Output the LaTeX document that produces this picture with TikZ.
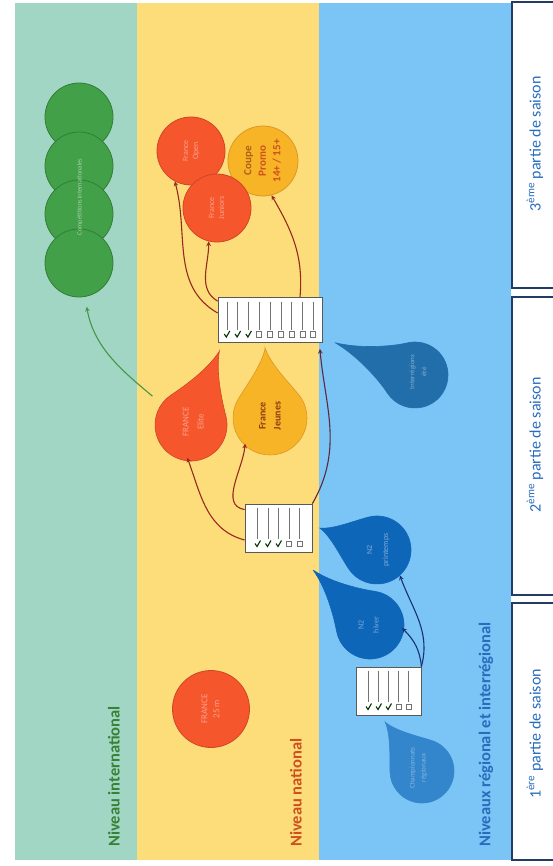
\documentclass[tikz,border=0pt]{standalone}
\usepackage{fontspec}
\setmainfont{Carlito}
\usepackage{graphicx}
\usetikzlibrary{arrows}

\definecolor{intlbg}{RGB}{162,214,196}
\definecolor{natbg}{RGB}{253,221,122}
\definecolor{regbg}{RGB}{122,196,246}
\definecolor{intlgreen}{RGB}{66,160,72}
\definecolor{intlline}{RGB}{50,125,55}
\definecolor{natred}{RGB}{246,86,44}
\definecolor{natredline}{RGB}{205,70,40}
\definecolor{natorange}{RGB}{246,180,38}
\definecolor{natorangeline}{RGB}{222,150,40}
\definecolor{natbrown}{RGB}{140,60,20}
\definecolor{regdark}{RGB}{33,110,170}
\definecolor{regmid}{RGB}{14,102,185}
\definecolor{reglight}{RGB}{52,134,204}
\definecolor{txtgreen}{RGB}{55,130,55}
\definecolor{txtred}{RGB}{205,80,30}
\definecolor{txtblue}{RGB}{40,108,190}
\definecolor{boxline}{RGB}{35,60,100}
\definecolor{arrred}{RGB}{150,40,30}
\definecolor{arrpurple}{RGB}{95,40,65}
\definecolor{arrblue}{RGB}{25,50,110}
\definecolor{arrgreen}{RGB}{70,150,70}

% text turned a quarter turn
\newcommand{\vtext}[1]{\rotatebox{90}{\begin{tabular}{@{}c@{}}#1\end{tabular}}}

% drop: x, y, radius, tail angle, tail length, colours
\newcommand{\drop}[6]{%
  \begin{scope}[shift={(#1,#2)},rotate=#4]
    \filldraw[#6,line width=0.6pt] (#5,0) .. controls ({(#5+#3)/2},{0.12*#3}) and ({0.94*#3},{0.56*#3}) .. ({0.574*#3},{0.819*#3})
      arc[start angle=55,end angle=305,radius=#3]
      .. controls ({0.94*#3},{-0.56*#3}) and ({(#5+#3)/2},{-0.12*#3}) .. cycle;
  \end{scope}}

% grid of results: name, x, y, width, height, columns, spacing
\newcommand{\tabgrid}[7]{%
  \node[gridbox,minimum width=#4pt,minimum height=#5pt] (#1) at (#2,#3) {};
  \foreach \k in {1,...,#6}{%
    \pgfmathsetmacro{\gx}{#2+(\k-(#6+1)/2)*#7}
    \draw[gridline] (\gx,#3-#5/2+4) -- (\gx,#3+#5/2-13);
    \ifnum\k<4
      \draw[checkmark] (\gx-2.5,#3+#5/2-8.5) -- (\gx-0.5,#3+#5/2-5.5) -- (\gx+3,#3+#5/2-11.5);
    \else
      \draw[gridline] (\gx-2.5,#3+#5/2-11) rectangle (\gx+2.5,#3+#5/2-5.5);
    \fi
  }}

\begin{document}
\begin{tikzpicture}[x=1pt,y=-1pt,>=stealth,
    every node/.style={inner sep=0pt},
    levellabel/.style={rotate=90,anchor=west,font=\bfseries\fontsize{16.5}{19}\selectfont},
    seasonlabel/.style={rotate=90,font=\fontsize{16}{19}\selectfont,text=txtblue},
    seasonbox/.style={draw=boxline,line width=1.6pt,fill=white},
    ball/.style={circle,draw,line width=0.8pt,minimum size=#1},
    body/.style={circle,minimum size=#1},
    faint/.style={font=\fontsize{8}{10}\selectfont,text=#1},
    gridbox/.style={draw=black!65,fill=white,line width=0.8pt},
    gridline/.style={draw=black!55,line width=0.5pt},
    checkmark/.style={draw=black!60!green!50!black,line width=1.1pt},
    arr/.style={->,line width=1.1pt,draw=arrred}]

  \useasboundingbox (0,0) rectangle (552,866);
  \fill[white] (0,0) rectangle (552,866);

  % the three levels
  \fill[intlbg] (15,3) rectangle (137,860);
  \fill[natbg] (137,3) rectangle (319,860);
  \fill[regbg] (319,3) rectangle (511,860);

  % parts of the season
  \node[seasonbox,minimum width=60pt,minimum height=286pt] (part3) at (542,145) {};
  \node[seasonbox,minimum width=60pt,minimum height=298pt] (part2) at (542,446) {};
  \node[seasonbox,minimum width=60pt,minimum height=257pt] (part1) at (542,731.5) {};
  \node[seasonlabel] (part3Text) at (535,144) {3\textsuperscript{ème} partie de saison};
  \node[seasonlabel] (part2Text) at (535,445) {2\textsuperscript{ème} partie de saison};
  \node[seasonlabel] (part1Text) at (535,734) {1\textsuperscript{ère} partie de saison};

  \node[levellabel,text=txtgreen] (intlLabel) at (114,847) {Niveau international};
  \node[levellabel,text=txtred] (natLabel) at (296,847) {Niveau national};
  \node[levellabel,text=txtblue] (regLabel) at (486,847) {Niveaux régional et interrégional};

  % international
  \foreach \i/\y in {1/117,2/166,3/214,4/263}
    \node[ball=68pt,fill=intlgreen,draw=intlline] (intl\i) at (79,\y) {};
  \node[faint=white!55!intlgreen,font=\fontsize{6.5}{8}\selectfont] (intlText) at (80,197) {\vtext{Compétitions internationales}};

  % national
  \node[ball=68pt,fill=natred,draw=natredline,faint=natred!55!white] (natA) at (191,151) {\vtext{France\\Open}};
  \node[ball=70pt,fill=natorange,draw=natorangeline,text=txtred,font=\bfseries\fontsize{11}{14.5}\selectfont] (natC) at (263,161) {\vtext{\textcolor{natbrown!70!natorange}{Coupe}\\Promo\\14+ / 15+}};
  \node[ball=68pt,fill=natred,draw=natredline,faint=natred!55!white] (natB) at (217,208) {\vtext{France\\Juniors}};
  \node[ball=77pt,fill=natred,draw=natredline,faint=natred!55!white,font=\fontsize{9}{12}\selectfont] (nat25) at (211,709) {\vtext{FRANCE\\25 m}};

  \drop{191}{425}{36}{69}{79}{fill=natred,draw=natredline}
  \drop{270}{418}{37}{94}{70}{fill=natorange,draw=natorangeline}
  \node[body=72pt,faint=natred!55!white,font=\fontsize{9}{15}\selectfont] (dropElite) at (193,422) {\vtext{FRANCE\\Elite}};
  \node[body=74pt,text=natbrown,font=\bfseries\fontsize{10}{15}\selectfont] (dropJeunes) at (270,416) {\vtext{France\\Jeunes}};

  % regional
  \drop{415}{375}{33}{158}{86}{fill=regdark,draw=regdark}
  \drop{377}{550}{34}{159}{61}{fill=regmid,draw=regmid}
  \drop{370}{625}{34}{136}{79}{fill=regmid,draw=regmid}
  \drop{422}{771}{32}{127}{61}{fill=reglight,draw=reglight}
  \node[body=66pt,faint=regdark!55!white,font=\fontsize{7}{12}\selectfont] (dropInter) at (418,372) {\vtext{Interrégions\\été}};
  \node[body=68pt,faint=regmid!55!white,font=\fontsize{8}{16}\selectfont] (dropUp) at (377,550) {\vtext{N2\\printemps}};
  \node[body=68pt,faint=regmid!55!white,font=\fontsize{8}{15}\selectfont] (dropLow) at (368,625) {\vtext{N2\\hiver}};
  \node[body=64pt,faint=reglight!60!white,font=\fontsize{7}{11}\selectfont] (dropReg) at (418,768) {\vtext{Championnats\\régionaux}};

  % results grids
  \tabgrid{tabC}{270}{320}{104}{45}{9}{10.8}
  \tabgrid{tabB}{278.5}{528}{67}{48}{5}{10.5}
  \tabgrid{tabA}{388.5}{691}{65}{48}{5}{10}

  % connect the nodes
  \draw[arr] ([yshift=7pt]tabC.west) to[out=150,in=-75] (natA.242);
  \draw[arr] ([yshift=-4pt]tabC.north west) to[out=150,in=-90] (natB.256);
  \draw[arr] ([xshift=30pt]tabC.north) to[out=85,in=-60] (natC.284);
  \draw[arr,draw=arrpurple,shorten >=6pt] (tabB.north east) to[out=60,in=-85] ([xshift=-3pt]tabC.south east);
  \draw[arr] ([yshift=-12pt]tabB.west) to[out=165,in=-70] (dropElite.261);
  \draw[arr] ([yshift=-6pt]tabB.north west) to[out=170,in=-95] (dropJeunes.228);
  \draw[arr,draw=arrblue] (tabA.north east) to[out=95,in=-45] (dropLow.-5);
  \draw[arr,draw=arrblue] (tabA.north east) to[out=75,in=-70] (dropUp.-48);
  \draw[arr,draw=arrgreen,shorten <=12pt,shorten >=10pt] (dropElite.150) to[out=140,in=-80] (intl4.-80);

\end{tikzpicture}
\end{document}
